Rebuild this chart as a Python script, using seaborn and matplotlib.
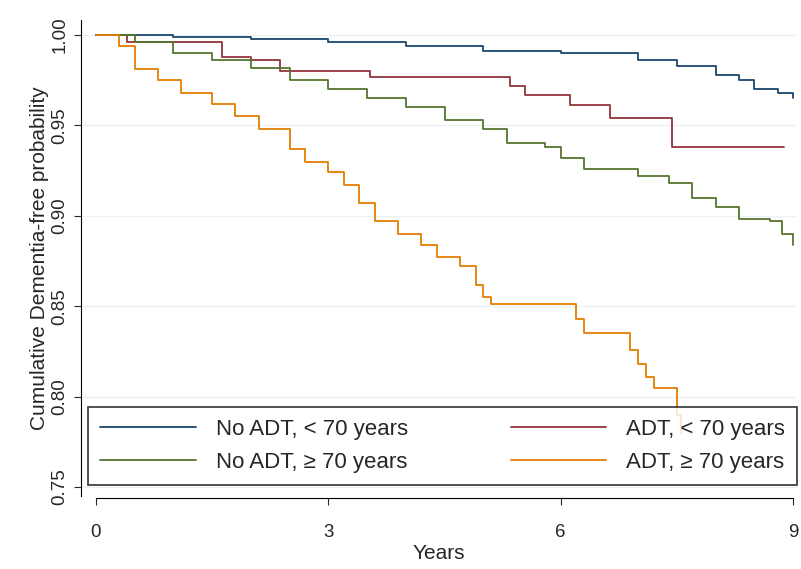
import matplotlib
matplotlib.use("Agg")
import matplotlib.pyplot as plt
import seaborn as sns
import pandas as pd

blue_t = [0, 1, 2, 3, 4, 5, 6, 7, 7.5, 8, 8.3, 8.5, 8.8, 9]
blue_s = [1.0, 0.999, 0.998, 0.996, 0.994, 0.991, 0.990, 0.986, 0.983, 0.978, 0.975, 0.970, 0.968, 0.965]
red_t = [0, 0.4, 1.63, 2.0, 2.38, 3.54, 5.35, 5.54, 6.12, 6.64, 7.44, 8.88]
red_s = [1.0, 0.996, 0.988, 0.986, 0.980, 0.977, 0.972, 0.967, 0.961, 0.954, 0.938, 0.938]
green_t = [0, 0.5, 1, 1.5, 2, 2.5, 3, 3.5, 4, 4.5, 5, 5.3, 5.8, 6, 6.3, 7, 7.4, 7.7, 8, 8.3, 8.7, 8.85, 9]
green_s = [1.0, 0.996, 0.990, 0.986, 0.982, 0.975, 0.970, 0.965, 0.960, 0.953, 0.948, 0.940, 0.938, 0.932, 0.926, 0.922, 0.918, 0.910, 0.905, 0.898, 0.897, 0.890, 0.884]
orange_t = [0, 0.3, 0.5, 0.8, 1.1, 1.5, 1.8, 2.1, 2.5, 2.7, 3.0, 3.2, 3.4, 3.6, 3.9, 4.2, 4.4, 4.7, 4.9, 5.0, 5.1, 6.2, 6.3, 6.9, 7.0, 7.1, 7.2, 7.5, 7.55]
orange_s = [1.0, 0.994, 0.981, 0.975, 0.968, 0.962, 0.955, 0.948, 0.937, 0.930, 0.924, 0.917, 0.907, 0.897, 0.890, 0.884, 0.877, 0.872, 0.862, 0.855, 0.851, 0.843, 0.835, 0.826, 0.818, 0.811, 0.805, 0.790, 0.780]

labels = ["No ADT, < 70 years", "ADT, < 70 years", "No ADT, ≥ 70 years", "ADT, ≥ 70 years"]
colors = ["#1a476f", "#90353b", "#55752f", "#e37e00"]

sns.set_style("white")
plt.rcParams['font.family'] = ['Liberation Sans', 'DejaVu Sans']

rows = []
for lab, t, s in zip(labels, [blue_t, red_t, green_t, orange_t], [blue_s, red_s, green_s, orange_s]):
    for a, b in zip(t, s):
        rows.append((lab, a, b))
df = pd.DataFrame(rows, columns=["group", "t", "s"])

fig = plt.figure(figsize=(8.01, 5.69), dpi=100)
ax = fig.add_axes([0.1005, 0.128, 0.8945, 0.836])
for y in [0.75, 0.80, 0.85, 0.90, 0.95, 1.00]:
    ax.axhline(y, color="#eaf2f3", lw=1, zorder=0)
sns.lineplot(data=df, x="t", y="s", hue="group", hue_order=labels, palette=colors,
             drawstyle="steps-post", lw=1.3, ax=ax, legend=False)
ax.set_xlim(-0.2, 9.05)
ax.set_ylim(0.745, 1.008)
ax.set_xticks([0, 3, 6, 9])
ax.set_yticks([0.75, 0.80, 0.85, 0.90, 0.95, 1.00])
ax.set_yticklabels(["0.75", "0.80", "0.85", "0.90", "0.95", "1.00"], rotation=90, va="center")
ax.tick_params(axis="both", labelsize=13.5, length=5, direction="out", left=True, bottom=True)
ax.tick_params(axis="x", pad=14)
ax.set_xlabel("Years", fontsize=15, labelpad=2)
ax.set_ylabel("Cumulative Dementia-free probability", fontsize=15, labelpad=2)
for sp in ["top", "right"]:
    ax.spines[sp].set_visible(False)
ax.spines["bottom"].set_position(("outward", 1))
ax.spines["bottom"].set_bounds(0, 9)
for sp in ["left", "bottom"]:
    ax.spines[sp].set_color("black")

handles = [plt.Line2D([], [], color=c, lw=1.3) for c in colors]
order = [0, 2, 1, 3]
leg = ax.legend([handles[i] for i in order], [labels[i] for i in order], ncol=2, loc="lower left",
                bbox_to_anchor=(0.0105, 0.023, 0.99, 0.2), mode="expand", borderaxespad=0,
                fontsize=16, frameon=True, fancybox=False,
                edgecolor="black", handlelength=4.3, handletextpad=0.9, borderpad=0.55, labelspacing=0.55)
leg.get_frame().set_linewidth(1.2)
fig.savefig("out.png", dpi=100)
